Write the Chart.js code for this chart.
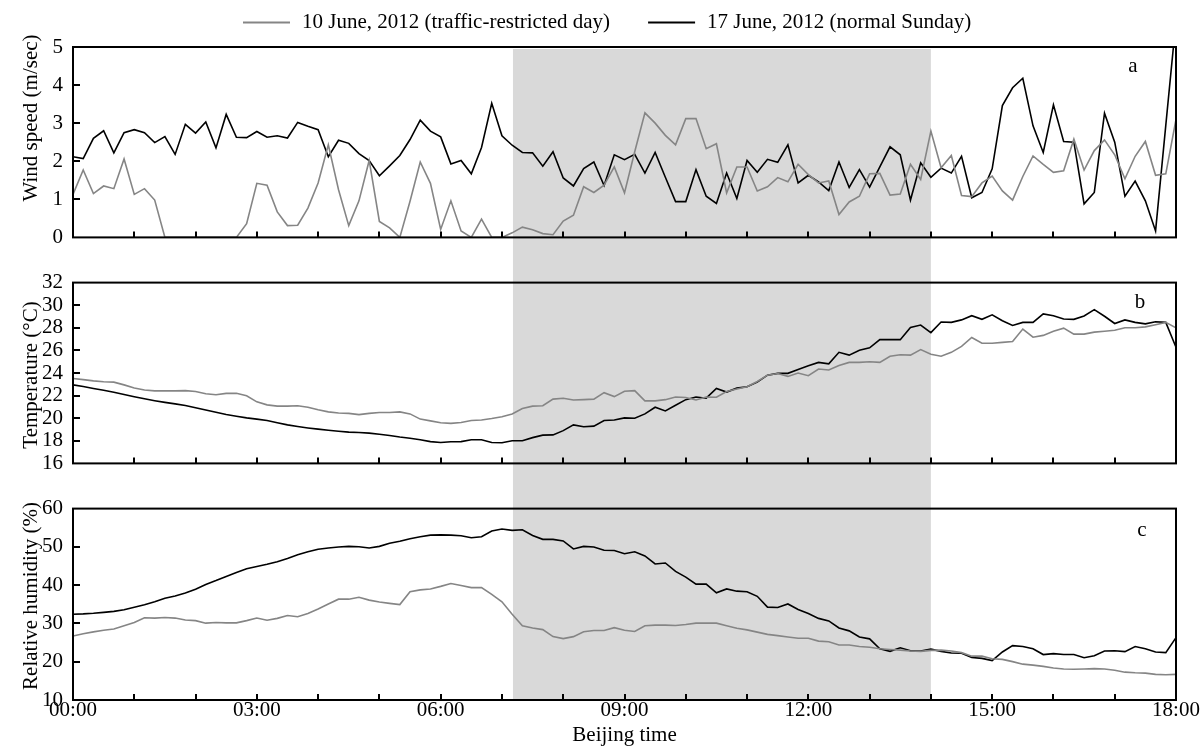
<!DOCTYPE html>
<html>
<head>
<meta charset="utf-8">
<script src="https://cdn.jsdelivr.net/npm/chart.js@4.4.1/dist/chart.umd.min.js"></script>
<style>
  html, body { margin: 0; padding: 0; background: #ffffff; }
  body { width: 1203px; height: 748px; position: relative; overflow: hidden; }
  canvas { position: absolute; left: 0; display: block; }
  #cA { top: 0px; }
  #cB { top: 260px; }
  #cC { top: 486px; }
</style>
</head>
<body>
<canvas id="cA" width="1203" height="260"></canvas>
<canvas id="cB" width="1203" height="226"></canvas>
<canvas id="cC" width="1203" height="262"></canvas>
<script>
// ---------------- DATA (10-minute samples, 00:00 .. 18:00) ----------------
const sampleMinutes = 10;
const seriesLabels = ['10 June, 2012 (traffic-restricted day)', '17 June, 2012 (normal Sunday)'];
const xTickHours = [0, 3, 6, 9, 12, 15, 18];
const windTicks = [0, 1, 2, 3, 4, 5];
const tempTicks = [16, 18, 20, 22, 24, 26, 28, 30, 32];
const rhTicks = [10, 20, 30, 40, 50, 60];
const shadeStartHour = 7.18;
const shadeEndHour = 14.0;

const windRestricted = [
  1.13,1.77,1.15,1.35,1.28,2.06,1.13,1.28,0.98,0,
  0,0,0,0,0,0,0,0.36,1.42,1.37,
  0.67,0.31,0.32,0.77,1.43,2.43,1.25,0.31,0.96,2.02,
  0.42,0.25,0,0.95,1.98,1.42,0.21,0.96,0.17,0,
  0.48,0,0,0.12,0.27,0.20,0.10,0.07,0.43,0.58,
  1.33,1.18,1.37,1.85,1.17,2.25,3.27,3.00,2.68,2.43,
  3.12,3.12,2.33,2.46,1.17,1.85,1.85,1.22,1.33,1.57,
  1.46,1.92,1.65,1.43,1.48,0.60,0.93,1.08,1.67,1.68,
  1.11,1.14,1.92,1.52,2.79,1.83,2.15,1.10,1.07,1.43,
  1.61,1.22,0.98,1.60,2.14,1.92,1.71,1.75,2.58,1.77,
  2.28,2.56,2.17,1.54,2.13,2.52,1.63,1.67,3.10
];
const windNormal = [
  2.12,2.07,2.60,2.80,2.22,2.75,2.83,2.75,2.49,2.65,
  2.18,2.97,2.74,3.03,2.35,3.23,2.63,2.62,2.78,2.63,
  2.67,2.61,3.02,2.92,2.83,2.12,2.55,2.47,2.20,2.02,
  1.62,1.88,2.15,2.57,3.08,2.79,2.64,1.93,2.02,1.67,
  2.36,3.52,2.67,2.42,2.23,2.22,1.87,2.25,1.56,1.35,
  1.81,1.98,1.36,2.17,2.04,2.18,1.69,2.23,1.58,0.94,
  0.94,1.78,1.08,0.89,1.69,1.02,2.02,1.71,2.05,1.97,
  2.43,1.43,1.63,1.46,1.23,1.98,1.31,1.78,1.32,1.85,
  2.38,2.17,0.98,1.96,1.58,1.82,1.69,2.13,1.04,1.18,
  1.80,3.46,3.93,4.18,2.93,2.23,3.48,2.52,2.50,0.88,
  1.18,3.26,2.50,1.08,1.48,0.96,0.17,2.94,5.70
];
const tempRestricted = [
  23.52,23.41,23.30,23.22,23.19,22.95,22.68,22.50,22.42,22.42,
  22.42,22.44,22.36,22.17,22.07,22.20,22.20,21.99,21.45,21.18,
  21.07,21.07,21.10,20.97,20.75,20.56,20.46,20.43,20.32,20.43,
  20.51,20.51,20.56,20.38,19.92,19.76,19.60,19.54,19.62,19.79,
  19.84,19.97,20.13,20.38,20.86,21.07,21.10,21.69,21.77,21.61,
  21.64,21.69,22.26,21.91,22.39,22.44,21.53,21.53,21.64,21.88,
  21.83,21.61,21.88,21.85,22.36,22.58,22.79,23.25,23.81,23.95,
  23.70,24.00,23.76,24.35,24.27,24.67,24.94,24.94,24.99,24.94,
  25.48,25.61,25.58,26.07,25.66,25.48,25.83,26.36,27.14,26.63,
  26.63,26.71,26.79,27.89,27.17,27.33,27.70,27.97,27.44,27.44,
  27.62,27.70,27.79,28.00,28.00,28.08,28.27,28.48,28.00
];
const tempNormal = [
  22.95,22.80,22.63,22.47,22.30,22.10,21.90,21.72,21.55,21.40,
  21.27,21.13,20.93,20.72,20.52,20.32,20.17,20.03,19.92,19.79,
  19.60,19.41,19.27,19.14,19.03,18.93,18.85,18.77,18.73,18.68,
  18.58,18.47,18.33,18.22,18.09,17.93,17.85,17.91,17.93,18.09,
  18.09,17.85,17.83,18.01,18.01,18.28,18.50,18.52,18.90,19.41,
  19.25,19.30,19.79,19.84,20.03,20.00,20.38,20.97,20.64,21.15,
  21.64,21.88,21.77,22.63,22.31,22.66,22.79,23.19,23.81,23.97,
  23.97,24.32,24.64,24.94,24.81,25.83,25.58,26.01,26.23,26.95,
  26.95,26.95,28.03,28.24,27.57,28.51,28.48,28.70,29.07,28.75,
  29.15,28.62,28.21,28.48,28.48,29.23,29.07,28.78,28.75,29.05,
  29.61,29.02,28.38,28.70,28.48,28.35,28.54,28.48,26.28
];
const rhRestricted = [
  26.72,27.30,27.80,28.20,28.56,29.40,30.23,31.49,31.40,31.57,
  31.40,30.90,30.74,30.07,30.23,30.15,30.15,30.74,31.40,30.82,
  31.32,32.07,31.74,32.58,33.75,35.08,36.34,36.34,36.84,36.09,
  35.59,35.25,34.92,38.26,38.76,39.01,39.68,40.43,39.93,39.35,
  39.35,37.59,35.67,32.41,29.40,28.81,28.39,26.56,26.05,26.56,
  27.81,28.14,28.14,28.90,28.23,27.89,29.40,29.57,29.57,29.48,
  29.73,30.07,30.07,30.07,29.40,28.73,28.31,27.73,27.14,26.81,
  26.47,26.14,26.14,25.38,25.22,24.38,24.38,23.96,23.80,23.38,
  23.21,23.04,22.79,22.71,22.96,23.04,22.79,22.37,21.45,21.45,
  20.79,20.62,20.03,19.36,19.11,18.78,18.36,18.11,18.03,18.11,
  18.19,18.11,17.78,17.27,17.11,17.02,16.69,16.61,16.69
];
const rhNormal = [
  32.40,32.50,32.66,32.90,33.16,33.58,34.25,34.90,35.67,36.60,
  37.17,37.93,38.93,40.18,41.19,42.27,43.28,44.28,44.87,45.45,
  46.12,46.96,47.96,48.71,49.38,49.72,49.97,50.13,50.05,49.72,
  50.13,50.97,51.47,52.14,52.64,53.06,53.14,53.06,52.89,52.39,
  52.64,54.15,54.65,54.31,54.48,52.98,51.97,51.97,51.56,49.47,
  50.13,49.97,49.13,49.05,48.21,48.71,47.63,45.54,45.79,43.61,
  42.11,40.27,40.27,38.01,39.01,38.43,38.26,37.09,34.25,34.16,
  35.08,33.66,32.58,31.32,30.65,28.81,28.06,26.47,25.97,23.38,
  22.71,23.63,22.88,22.79,23.29,22.71,22.29,22.21,21.12,20.87,
  20.28,22.54,24.21,23.96,23.38,21.87,22.12,21.87,21.87,21.04,
  21.54,22.79,22.88,22.63,23.96,23.38,22.54,22.37,26.30
];

// ---------------- STYLE ----------------
const FONT = "'Liberation Serif', 'Times New Roman', 'DejaVu Serif', serif";
const FSIZE = 21;
const GRAY = '#858585';
const BLACK = '#000000';
const SHADE = '#d9d9d9';
Chart.defaults.font.family = FONT;
Chart.defaults.font.size = FSIZE;
Chart.defaults.color = '#000';

const toPoints = arr => arr.map((v, i) => ({ x: i * sampleMinutes / 60, y: v }));
const fmtHour = h => String(h).padStart(2, '0') + ':00';

// panel decoration plugin: shaded period, frame, inward ticks, letter, y title, legend
const panelDecor = {
  id: 'panelDecor',
  beforeDatasetsDraw(chart, args, o) {
    const { ctx, chartArea: a, scales: { x } } = chart;
    const x0 = x.getPixelForValue(shadeStartHour);
    const x1 = x.getPixelForValue(shadeEndHour);
    const top = o.shadeFromArea ? a.top + 2 : 0;
    const bottom = o.shadeToArea ? a.bottom : chart.height;
    ctx.save();
    ctx.fillStyle = SHADE;
    ctx.fillRect(x0, top, x1 - x0, bottom - top);
    ctx.restore();
  },
  afterDraw(chart, args, o) {
    const { ctx, chartArea: a, scales: { x, y } } = chart;
    ctx.save();
    ctx.strokeStyle = '#000';
    ctx.lineWidth = 2;
    ctx.strokeRect(a.left, a.top, a.right - a.left, a.bottom - a.top);
    // inward x ticks every hour
    ctx.beginPath();
    for (let h = x.min + 1; h < x.max; h++) {
      const px = Math.round(x.getPixelForValue(h));
      ctx.moveTo(px, a.bottom);
      ctx.lineTo(px, a.bottom - 6);
    }
    // inward y ticks
    y.ticks.forEach(t => {
      if (t.value > y.min && t.value < y.max) {
        const py = Math.round(y.getPixelForValue(t.value));
        ctx.moveTo(a.left, py);
        ctx.lineTo(a.left + 7, py);
      }
    });
    ctx.stroke();
    // panel letter
    ctx.fillStyle = '#000';
    ctx.font = FSIZE + 'px ' + FONT;
    ctx.textAlign = 'center';
    ctx.textBaseline = 'alphabetic';
    ctx.fillText(o.letter, a.right - o.letterDx, a.top + o.letterDy);
    // y title
    ctx.translate(o.titleX, o.titleY);
    ctx.rotate(-Math.PI / 2);
    ctx.textBaseline = 'middle';
    ctx.fillText(o.title, 0, 0);
    ctx.restore();
    // legend
    if (o.legend) {
      ctx.save();
      ctx.font = FSIZE + 'px ' + FONT;
      ctx.textBaseline = 'alphabetic';
      ctx.textAlign = 'left';
      let lx = o.legendX;
      chart.data.datasets.forEach(ds => {
        ctx.strokeStyle = ds.borderColor;
        ctx.lineWidth = 2;
        ctx.beginPath();
        ctx.moveTo(lx, o.legendLineY);
        ctx.lineTo(lx + 47, o.legendLineY);
        ctx.stroke();
        ctx.fillStyle = '#000';
        ctx.fillText(ds.label, lx + 59, o.legendTextY);
        lx += 59 + ctx.measureText(ds.label).width + 38;
      });
      ctx.restore();
    }
  }
};

function makeDatasets(restricted, normal) {
  return [
    { label: seriesLabels[0], data: toPoints(restricted), borderColor: GRAY, borderWidth: 1.6,
      pointRadius: 0, tension: 0, fill: false },
    { label: seriesLabels[1], data: toPoints(normal), borderColor: BLACK, borderWidth: 1.6,
      pointRadius: 0, tension: 0, fill: false }
  ];
}

function yScale(ticks) {
  return {
    type: 'linear',
    min: ticks[0], max: ticks[ticks.length - 1],
    afterBuildTicks: s => { s.ticks = ticks.map(v => ({ value: v })); },
    ticks: { padding: 10, color: '#000', font: { size: FSIZE }, autoSkip: false },
    grid: { display: false, drawTicks: false },
    border: { display: false },
    afterFit: s => { s.width = 73; }
  };
}

function xScale(show) {
  return {
    type: 'linear', min: 0, max: 18,
    display: show,
    afterBuildTicks: s => { s.ticks = xTickHours.map(v => ({ value: v })); },
    ticks: { callback: v => fmtHour(v), maxRotation: 0, autoSkip: false, padding: -2, color: '#000',
      font: { size: FSIZE } },
    grid: { display: false, drawTicks: false },
    border: { display: false },
    title: { display: show, text: 'Beijing time', color: '#000', font: { size: FSIZE },
      padding: { top: 0, bottom: 0 } },
    afterFit: s => { if (show) s.height = 48; }
  };
}

function makeChart(id, restricted, normal, ticks, pad, showX, decor) {
  return new Chart(document.getElementById(id), {
    type: 'line',
    data: { datasets: makeDatasets(restricted, normal) },
    options: {
      responsive: false, animation: false, events: [],
      layout: { padding: pad },
      scales: { x: xScale(showX), y: yScale(ticks) },
      plugins: { legend: { display: false }, tooltip: { enabled: false }, panelDecor: decor }
    },
    plugins: [panelDecor]
  });
}

makeChart('cA', windRestricted, windNormal, windTicks,
  { top: 47, bottom: 13, left: 0, right: 27 }, false,
  { letter: 'a', letterDx: 43, letterDy: 25, title: 'Wind speed (m/sec)', titleX: 31, titleY: 118,
    shadeFromArea: true, shadeToArea: false, legend: true, legendX: 243, legendLineY: 22.5, legendTextY: 28 });

makeChart('cB', tempRestricted, tempNormal, tempTicks,
  { top: 14, bottom: 13, left: 0, right: 27 }, false,
  { letter: 'b', letterDx: 36, letterDy: 25, title: 'Temperature (°C)', titleX: 31, titleY: 115,
    shadeFromArea: false, shadeToArea: false, legend: false });

makeChart('cC', rhRestricted, rhNormal, rhTicks,
  { top: 15, bottom: 0, left: 0, right: 27 }, true,
  { letter: 'c', letterDx: 34, letterDy: 27, title: 'Relative humidity (%)', titleX: 31, titleY: 110,
    shadeFromArea: false, shadeToArea: true, legend: false });
</script>
</body>
</html>
